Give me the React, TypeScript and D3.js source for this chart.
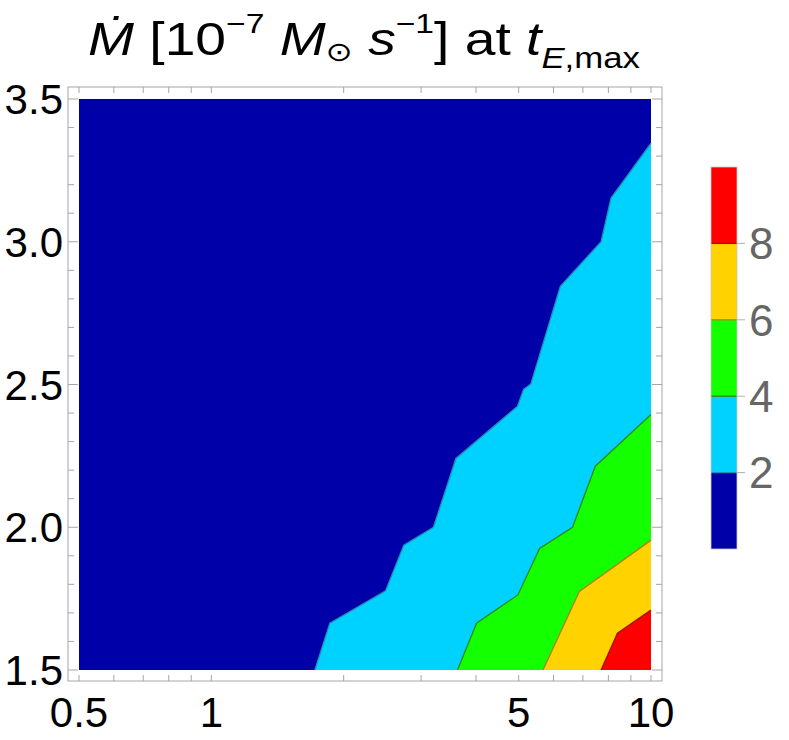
import React from "react";
import * as d3 from "d3";

// contour boundary lines, [x, y] in data units
// region to the lower right of each line is above that level
const contour2 = [
  [1.72, 1.5], [1.86, 1.664], [2.49, 1.777], [2.74, 1.937], [3.2, 2.0],
  [3.6, 2.241], [4.97, 2.424], [5.13, 2.483], [5.33, 2.502], [6.22, 2.844],
  [7.7, 3.0], [8.11, 3.153], [10, 3.345],
];
const contour4 = [
  [3.63, 1.5], [4.01, 1.664], [4.98, 1.763], [5.58, 1.926], [6.63, 2.0],
  [7.47, 2.214], [10, 2.395],
];
const contour6 = [[5.68, 1.5], [6.87, 1.775], [10, 1.955]];
const contour8 = [[7.7, 1.5], [8.39, 1.629], [10, 1.71]];

const levels = [2, 4, 6, 8];
const bandColors = ["#0000a8", "#00d2ff", "#14ff00", "#ffd200", "#ff0000"];
const lineColors = ["#1f8fb8", "#2a8a10", "#a88418", "#a01010"];

const xMajor = [0.5, 1, 5, 10];
const xMinor = [0.6, 0.7, 0.8, 0.9, 2, 3, 4, 6, 7, 8, 9];
const yMajor = [1.5, 2.0, 2.5, 3.0, 3.5];
const yMinor = [1.6, 1.7, 1.8, 1.9, 2.1, 2.2, 2.3, 2.4, 2.6, 2.7, 2.8, 2.9, 3.1, 3.2, 3.3, 3.4];
const barTicks = [2, 4, 6, 8];

export default function App() {
  const width = 789, height = 740;
  const x = d3.scaleLog().domain([0.5, 10]).range([79, 651]);
  const y = d3.scaleLinear().domain([1.5, 3.5]).range([670, 99]);
  const bar = d3.scaleLinear().domain([0, 10]).range([549, 167]);

  const frame = { left: 68, right: 662, top: 87, bottom: 681 };
  const font = "'Liberation Sans', Arial, sans-serif";

  const line = d3.line<number[]>().x(d => x(d[0])).y(d => y(d[1]));
  const contours = [contour2, contour4, contour6, contour8];
  // close each region along the right and bottom edges
  const regionPath = (pts: number[][]) => line([...pts, [10, 1.5]]) + "Z";

  return (
    <svg width={width} height={height} style={{ position: "absolute", left: 0, top: 0, background: "#fff" }}>
      {/* title (Mathematica's glyphs are a bit wider than Arial) */}
      <g transform="translate(364,55) scale(1.2,1)">
        <text x={0} y={0} textAnchor="middle" fontFamily={font} fontSize={46} fill="#000" style={{ whiteSpace: "pre" }}>
          <tspan fontStyle="italic">Ṁ</tspan>
          <tspan> [10</tspan>
          <tspan fontSize={28} dy={-22}>−7</tspan>
          <tspan dy={22}> </tspan>
          <tspan fontStyle="italic">M</tspan>
          <tspan fontSize={27} dy={6} fontFamily="'DejaVu Sans', sans-serif">⊙</tspan>
          <tspan dy={-6}> </tspan>
          <tspan fontStyle="italic">s</tspan>
          <tspan fontSize={28} dy={-22}>−1</tspan>
          <tspan dy={22}>] at </tspan>
          <tspan fontStyle="italic">t</tspan>
          <tspan fontSize={29} dy={13} fontStyle="italic">E</tspan>
          <tspan fontSize={29}>,max</tspan>
        </text>
      </g>

      {/* contour fill */}
      <rect x={x(0.5)} y={y(3.5)} width={x(10) - x(0.5)} height={y(1.5) - y(3.5)} fill={bandColors[0]} />
      {contours.map((c, i) => (
        <path key={"r" + i} d={regionPath(c)} fill={bandColors[i + 1]} />
      ))}
      {contours.map((c, i) => (
        <path key={"l" + i} d={line(c) || ""} fill="none" stroke={lineColors[i]} strokeWidth={1.3} />
      ))}

      {/* frame */}
      <rect x={frame.left} y={frame.top} width={frame.right - frame.left} height={frame.bottom - frame.top}
        fill="none" stroke="#a6a6a6" strokeWidth={1} />
      {[...xMajor, ...xMinor].map(t => (
        <g key={"xt" + t} stroke="#a6a6a6">
          <line x1={x(t)} x2={x(t)} y1={frame.bottom} y2={frame.bottom - 6} />
          <line x1={x(t)} x2={x(t)} y1={frame.top} y2={frame.top + 6} />
        </g>
      ))}
      {yMajor.map(t => (
        <g key={"yt" + t} stroke="#a6a6a6">
          <line x1={frame.left} x2={frame.left + 10} y1={y(t)} y2={y(t)} />
          <line x1={frame.right} x2={frame.right - 10} y1={y(t)} y2={y(t)} />
        </g>
      ))}
      {yMinor.map(t => (
        <g key={"ym" + t} stroke="#a6a6a6">
          <line x1={frame.left} x2={frame.left + 6} y1={y(t)} y2={y(t)} />
          <line x1={frame.right} x2={frame.right - 6} y1={y(t)} y2={y(t)} />
        </g>
      ))}

      {/* tick labels */}
      {xMajor.map(t => (
        <text key={"xl" + t} x={x(t)} y={727} textAnchor="middle" fontFamily={font} fontSize={42} fill="#000">
          {t}
        </text>
      ))}
      {yMajor.map(t => (
        <text key={"yl" + t} x={63} y={y(t)} dy="0.36em" textAnchor="end" fontFamily={font} fontSize={42} fill="#000">
          {t.toFixed(1)}
        </text>
      ))}

      {/* colour bar */}
      {bandColors.map((c, i) => (
        <rect key={"b" + i} x={711} width={26} y={bar(i * 2 + 2)} height={bar(i * 2) - bar(i * 2 + 2)} fill={c} />
      ))}
      {barTicks.map((t, i) => (
        <g key={"bt" + t}>
          <line x1={711} x2={737} y1={bar(t)} y2={bar(t)} stroke={lineColors[i]} strokeWidth={1.3} />
          <line x1={737} x2={745} y1={bar(t)} y2={bar(t)} stroke="#b0b0b0" />
          <text x={749} y={bar(t)} dy="0.36em" fontFamily={font} fontSize={44} fill="#666">{t}</text>
        </g>
      ))}
      <rect x={711} y={bar(10)} width={26} height={bar(0) - bar(10)} fill="none" stroke="#c8c8c8" strokeWidth={0.8} />
    </svg>
  );
}
